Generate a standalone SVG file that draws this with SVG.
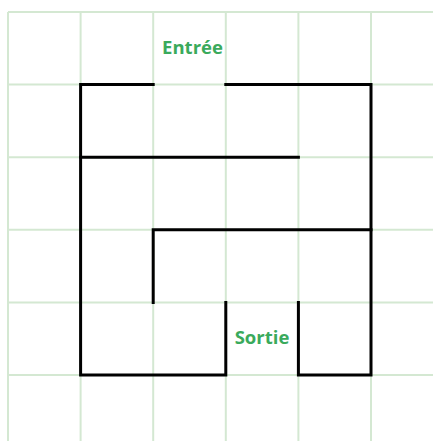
<svg xmlns="http://www.w3.org/2000/svg" width="433" height="441" viewBox="0 0 433 441">
<style>
.grid line{stroke:#d4e8d2;stroke-width:2}
.wall{stroke:#000;stroke-width:3;fill:none;stroke-linecap:square;stroke-linejoin:miter}
.lbl{font-family:"Open Sans","Noto Sans",sans-serif;font-weight:bold;font-size:18.5px;fill:#3aaa5c;text-anchor:middle}
</style>
<rect width="433" height="441" fill="#fff"/>
<g class="grid">
<line x1="8" y1="12" x2="433" y2="12"/>
<line x1="8" y1="84.6" x2="433" y2="84.6"/>
<line x1="8" y1="157.2" x2="433" y2="157.2"/>
<line x1="8" y1="229.8" x2="433" y2="229.8"/>
<line x1="8" y1="302.4" x2="433" y2="302.4"/>
<line x1="8" y1="375" x2="433" y2="375"/>
<line x1="8" y1="12" x2="8" y2="441"/>
<line x1="80.6" y1="12" x2="80.6" y2="441"/>
<line x1="153.2" y1="12" x2="153.2" y2="441"/>
<line x1="225.8" y1="12" x2="225.8" y2="441"/>
<line x1="298.4" y1="12" x2="298.4" y2="441"/>
<line x1="371" y1="12" x2="371" y2="441"/>
</g>
<g id="walls">
<path class="wall" d="M153.2,84.6 H80.6 V375 H225.8 V302.4"/>
<path class="wall" d="M225.8,84.6 H371 V375 H298.4 V302.4"/>
<path class="wall" d="M80.6,157.2 H298.4"/>
<path class="wall" d="M153.2,302.4 V229.8 H371"/>
</g>
<g id="entree"><text class="lbl" x="192.5" y="53.5">Entrée</text></g>
<g id="sortie"><text class="lbl" x="262" y="343.5">Sortie</text></g>
</svg>
